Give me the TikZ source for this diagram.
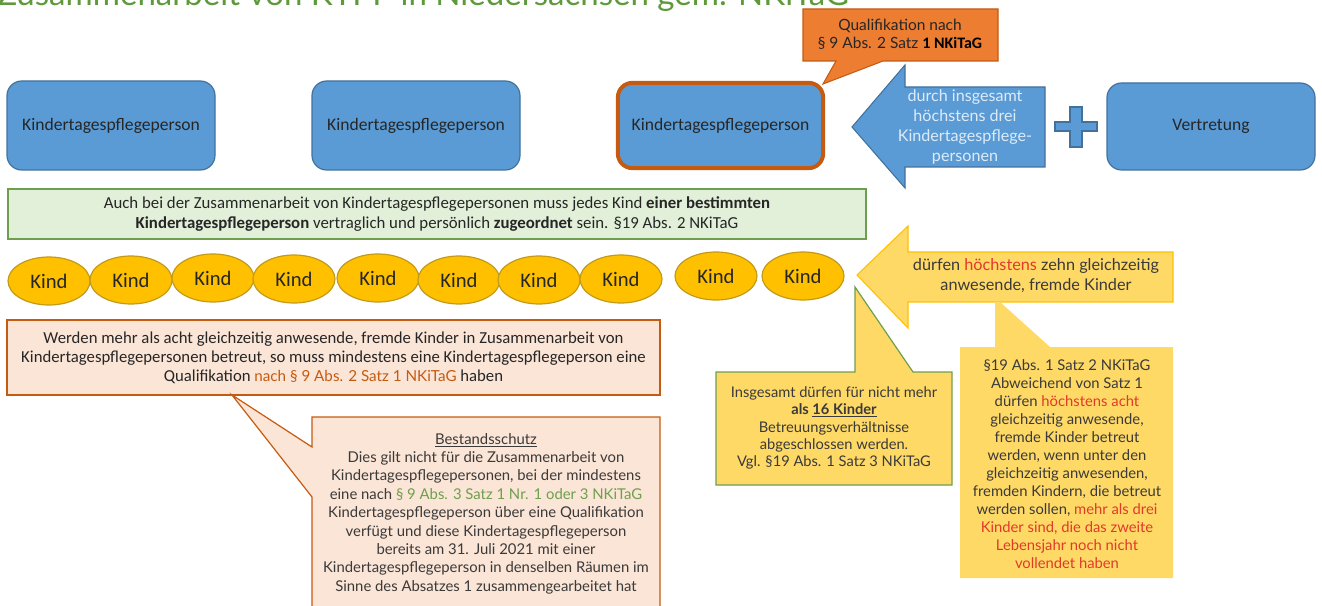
\documentclass[tikz,border=0pt]{standalone}
\usepackage{fontspec}
\setmainfont{Carlito}
\newfontfamily\bund{Lato}
\usetikzlibrary{shapes.geometric}
\definecolor{bfill}{HTML}{5B9BD5}
\definecolor{bline}{HTML}{41719C}
\definecolor{orfill}{HTML}{ED7D31}
\definecolor{orline}{HTML}{C55A11}
\definecolor{gfill}{HTML}{E2F0D9}
\definecolor{gline}{HTML}{6E9F4E}
\definecolor{kfill}{HTML}{FFC000}
\definecolor{kline}{HTML}{C49A1A}
\definecolor{yfill}{HTML}{FFD966}
\definecolor{pfill}{HTML}{FBE5D6}
\definecolor{redt}{HTML}{E03A2A}
\definecolor{greent}{HTML}{6E9F4E}
\definecolor{titleg}{HTML}{5E9A3C}
\definecolor{txt}{HTML}{262626}
\definecolor{btxt}{HTML}{3A3A3A}
\definecolor{paletxt}{HTML}{DDEBF7}
\begin{document}
\begin{tikzpicture}[x=0.75pt,y=-0.75pt,
  kbox/.style={draw=bline, fill=bfill, line width=0.9pt, rounded corners=11pt,
    minimum width=156pt, minimum height=66.75pt, inner sep=0pt,
    text=txt, font=\fontsize{13.2}{15}\selectfont},
  kind/.style={ellipse, draw=kline, fill=kfill, line width=0.9pt,
    minimum width=61.5pt, minimum height=36pt, inner sep=0pt,
    text=txt, font=\fontsize{15.5}{18}\selectfont},
  btext/.style={align=center, inner sep=0pt, text=btxt},
]
\useasboundingbox (0,0) rectangle (1322,606);

% title (cut at the top edge, as in the reference)
\node[anchor=base west, inner sep=0pt, text=titleg,
  font=\bund\fontsize{24.8}{28}\selectfont] (title) at (-3,6)
  {Zusammenarbeit von KTPP in Niedersachsen gem. NKiTaG};

% top row of boxes
\node[kbox] (p1) at (111,125.5) {Kindertagespflegeperson};
\node[kbox] (p2) at (416,125.5) {Kindertagespflegeperson};

% orange callout
\draw[draw=orline, fill=orfill, line width=0.8pt, line join=miter]
  (803,9) -- (998,9) -- (998,61) -- (883,61) -- (823,84) -- (836,61) -- (803,61) -- cycle;
\node[btext, font=\bund\fontsize{11.6}{13.5}\selectfont, text=black!85] (qual) at (900,34)
  {Qualifikation nach\\ § 9 Abs. 2 Satz {\normalfont\fontsize{12}{13.5}\selectfont\bfseries\color{black}1 NKiTaG}};

\node[kbox, draw=orline, line width=3pt, minimum width=154pt, minimum height=64pt] (p3) at (720.5,125.5) {Kindertagespflegeperson};

% blue arrow
\draw[draw=bline, fill=bfill, line width=0.8pt, line join=miter]
  (852,127) -- (905,65) -- (905,87) -- (1045,87) -- (1045,167) -- (905,167) -- (905,188) -- cycle;
\node[btext, text=paletxt, font=\bund\fontsize{12.1}{15}\selectfont] (drei) at (965,127)
  {durch insgesamt\\ höchstens drei\\ Kindertagespflege-\\ personen};

% plus sign
\draw[draw=bline, fill=bfill, line width=0.8pt]
  (1055,122) -- (1070,122) -- (1070,107) -- (1082,107) -- (1082,122) -- (1097,122)
  -- (1097,131) -- (1082,131) -- (1082,147) -- (1070,147) -- (1070,131) -- (1055,131) -- cycle;
\coordinate (plus) at (1076,127);

\node[kbox, minimum height=65.25pt] (vert) at (1211,126.5) {Vertretung};

% green box
\node[draw=gline, fill=gfill, line width=1pt, minimum width=643.5pt, minimum height=37.5pt,
  inner sep=0pt, align=center, text=txt, font=\fontsize{12.6}{15}\selectfont] (zuord) at (437,214)
  {Auch bei der Zusammenarbeit von Kindertagespflegepersonen muss jedes Kind \textbf{einer bestimmten}\\
   \textbf{Kindertagespflegeperson} vertraglich und persönlich \textbf{zugeordnet} sein. §19 Abs. 2 NKiTaG};

% children
\foreach \i/\x/\y in {1/49/281, 2/131/280, 3/213/278, 4/294/279, 5/378/278,
                      6/459/280, 7/539/280, 8/621/279, 9/716/276, 10/803/276}
  \node[kind] (kind\i) at (\x,\y) {Kind};

% yellow arrow
\draw[draw=kfill, fill=yfill, line width=0.8pt, line join=miter]
  (857,275) -- (908,226) -- (908,252) -- (1173,252) -- (1173,302) -- (908,302) -- (908,328) -- cycle;
\node[btext, font=\bund\fontsize{12.2}{15}\selectfont] (zehn) at (1036,276)
  {dürfen {\color{redt}höchstens} zehn gleichzeitig\\ anwesende, fremde Kinder};

% right yellow callout
\fill[yfill]
  (960,347) -- (995,347) -- (995,302) -- (1000,302) -- (1050,347) -- (1173,347) -- (1173,578) -- (960,578) -- cycle;
\node[btext, font=\bund\fontsize{11.1}{13.5}\selectfont] (acht) at (1067,464)
  {§19 Abs. 1 Satz 2 NKiTaG\\
   Abweichend von Satz 1\\
   dürfen {\color{redt}höchstens acht}\\
   gleichzeitig anwesende,\\
   fremde Kinder betreut\\
   werden, wenn unter den\\
   gleichzeitig anwesenden,\\
   fremden Kindern, die betreut\\
   werden sollen, {\color{redt}mehr als drei}\\
   {\color{redt}Kinder sind, die das zweite}\\
   {\color{redt}Lebensjahr noch nicht}\\
   {\color{redt}vollendet haben}};

% green-bordered callout
\draw[draw=gline, fill=yfill, line width=0.9pt, line join=miter]
  (716,372) -- (855,372) -- (855,287) -- (913,372) -- (952,372) -- (952,485) -- (716,485) -- cycle;
\node[btext, font=\bund\fontsize{11}{13.1}\selectfont] (sechzehn) at (834,428)
  {Insgesamt dürfen für nicht mehr\\
   \textbf{als \underline{16 Kinder}}\\
   Betreuungsverhältnisse\\
   abgeschlossen werden.\\
   Vgl. §19 Abs. 1 Satz 3 NKiTaG};

% peach box
\node[draw=orline, fill=pfill, line width=0.9pt, minimum width=489.75pt, minimum height=56.25pt,
  inner sep=0pt, align=center, text=txt, font=\fontsize{12.55}{14.25}\selectfont] (mehr) at (333.5,357.5)
  {Werden mehr als acht gleichzeitig anwesende, fremde Kinder in Zusammenarbeit von\\
   Kindertagespflegepersonen betreut, so muss mindestens eine Kindertagespflegeperson eine\\
   Qualifikation {\bund\fontsize{11.4}{14.25}\selectfont\color{orline}nach § 9 Abs. 2 Satz 1 NKiTaG} haben};

% peach callout
\draw[draw=orline, fill=pfill, line width=0.9pt, line join=miter]
  (312,447) -- (232,395) -- (312,497) -- (312,612) -- (660,612) -- (660,417) -- (312,417) -- cycle;
\node[btext, font=\bund\fontsize{11.15}{13.8}\selectfont] (bestand) at (486,513.5)
  {\underline{Bestandsschutz}\\
   Dies gilt nicht für die Zusammenarbeit von\\
   Kindertagespflegepersonen, bei der mindestens\\
   eine nach {\color{greent}§ 9 Abs. 3 Satz 1 Nr. 1 oder 3 NKiTaG}\\
   Kindertagespflegeperson über eine Qualifikation\\
   verfügt und diese Kindertagespflegeperson\\
   bereits am 31. Juli 2021 mit einer\\
   Kindertagespflegeperson in denselben Räumen im\\
   Sinne des Absatzes 1 zusammengearbeitet hat};
\end{tikzpicture}
\end{document}
